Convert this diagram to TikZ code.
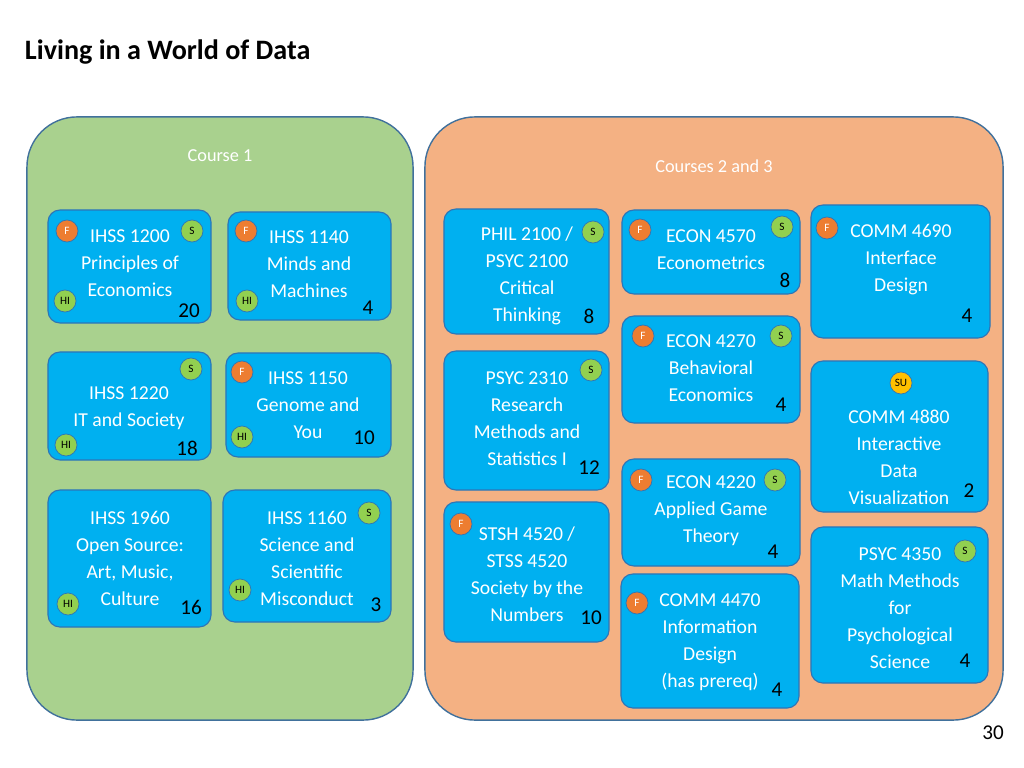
\documentclass[tikz,border=0pt]{standalone}
\usepackage{fontspec}
\setmainfont{Carlito}
\usetikzlibrary{positioning}
\definecolor{boxblue}{RGB}{0,176,240}
\definecolor{edgeblue}{RGB}{46,117,182}
\definecolor{darkedge}{RGB}{65,113,156}
\definecolor{greenbg}{RGB}{169,209,142}
\definecolor{orangebg}{RGB}{244,177,131}
\definecolor{fcol}{RGB}{237,125,49}
\definecolor{scol}{RGB}{146,208,80}
\definecolor{sucol}{RGB}{255,192,0}
\tikzset{
  area/.style={draw=darkedge, line width=1pt, rounded corners=1.25cm, inner sep=0pt},
  course/.style={draw=edgeblue, line width=0.8pt, fill=boxblue, rounded corners=0.3cm, inner sep=0pt},
  ctext/.style={align=center, text=white, font=\fontsize{14}{19.2}\selectfont},
  badge/.style={circle, draw=edgeblue, line width=0.5pt, minimum size=0.55cm, inner sep=0pt, font=\fontsize{8}{8}\selectfont},
  fb/.style={badge, fill=fcol, text=white},
  sb/.style={badge, fill=scol},
  hb/.style={badge, fill=scol},
  sub/.style={badge, fill=sucol},
  num/.style={font=\fontsize{15}{15}\selectfont},
}
\begin{document}
\begin{tikzpicture}[x=0.025cm, y=-0.025cm]
  \useasboundingbox[fill=white] (0,0) rectangle (1024,768);

  \node[anchor=west, font=\bfseries\fontsize{20}{20}\selectfont] (title) at (20,52) {Living in a World of Data};
  \node[num] (page) at (993,733) {30};

  % the two groups
  \node[area, fill=greenbg, minimum width=9.65cm, minimum height=15.075cm] (grp1) at (220,418.5) {};
  \node[area, fill=orangebg, minimum width=14.45cm, minimum height=15.075cm] (grp2) at (714,418.5) {};
  \node[text=white, font=\fontsize{13}{13}\selectfont] (grp1lbl) at (220,156) {Course 1};
  \node[text=white, font=\fontsize{13}{13}\selectfont] (grp2lbl) at (714,166) {Courses 2 and 3};

  % course boxes
  \node[course, minimum width=4.075cm, minimum height=2.825cm] (ihss1200) at (129.5,266.5) {};
  \node[course, minimum width=4.075cm, minimum height=2.7cm] (ihss1140) at (309.5,266) {};
  \node[course, minimum width=4.075cm, minimum height=2.7cm] (ihss1220) at (129.5,406) {};
  \node[course, minimum width=4.125cm, minimum height=2.6cm] (ihss1150) at (308.5,405) {};
  \node[course, minimum width=4.075cm, minimum height=3.425cm] (ihss1960) at (129.5,558.5) {};
  \node[course, minimum width=4.2cm, minimum height=3.3cm] (ihss1160) at (307,556) {};
  \node[course, minimum width=4.125cm, minimum height=3.125cm] (phil2100) at (526.5,271.5) {};
  \node[course, minimum width=4.45cm, minimum height=2.1cm] (econ4570) at (711,252) {};
  \node[course, minimum width=4.475cm, minimum height=3.325cm] (comm4690) at (900.5,271.5) {};
  \node[course, minimum width=4.45cm, minimum height=2.675cm] (econ4270) at (711,369.5) {};
  \node[course, minimum width=4.125cm, minimum height=3.475cm] (psyc2310) at (526.5,420.5) {};
  \node[course, minimum width=4.425cm, minimum height=3.775cm] (comm4880) at (899.5,436.5) {};
  \node[course, minimum width=4.45cm, minimum height=2.675cm] (econ4220) at (711,512.5) {};
  \node[course, minimum width=4.125cm, minimum height=3.5cm] (stsh4520) at (526.5,572) {};
  \node[course, minimum width=4.425cm, minimum height=3.9cm] (psyc4350) at (899.5,605) {};
  \node[course, minimum width=4.45cm, minimum height=3.35cm] (comm4470) at (710,641) {};

  % course titles
  \node[ctext] (t1200) at (130,263) {IHSS 1200\\Principles of\\Economics};
  \node[ctext] (t1140) at (309,264) {IHSS 1140\\Minds and\\Machines};
  \node[ctext] (t1220) at (129,408) {IHSS 1220\\IT and Society};
  \node[ctext] (t1150) at (308,405) {IHSS 1150\\Genome and\\You};
  \node[ctext] (t1960) at (130,558) {IHSS 1960\\Open Source:\\Art, Music,\\Culture};
  \node[ctext] (t1160) at (307,558) {IHSS 1160\\Science and\\Scientific\\Misconduct};
  \node[ctext] (t2100) at (527,276) {PHIL 2100 /\\PSYC 2100\\Critical\\Thinking};
  \node[ctext] (t4570) at (711,250) {ECON 4570\\Econometrics};
  \node[ctext] (t4690) at (901,260) {COMM 4690\\Interface\\Design};
  \node[ctext] (t4270) at (711,368) {ECON 4270\\Behavioral\\Economics};
  \node[ctext] (t2310) at (527,419) {PSYC 2310\\Research\\Methods and\\Statistics I};
  \node[ctext] (t4880) at (899,457) {COMM 4880\\Interactive\\Data\\Visualization};
  \node[ctext] (t4220) at (711,511) {ECON 4220\\Applied Game\\Theory};
  \node[ctext] (t4520) at (527,574) {STSH 4520 /\\STSS 4520\\Society by the\\Numbers};
  \node[ctext] (t4350) at (900,608) {PSYC 4350\\Math Methods\\for\\Psychological\\Science};
  \node[ctext] (t4470) at (710,642) {COMM 4470\\Information\\Design\\(has prereq)};

  % badges
  \node[fb] (f1200) at (67,231) {F};
  \node[sb] (s1200) at (192,231) {S};
  \node[hb] (h1200) at (65,301) {HI};
  \node[fb] (f1140) at (246,231) {F};
  \node[hb] (h1140) at (247,301) {HI};
  \node[sb] (s1220) at (191,369) {S};
  \node[hb] (h1220) at (66,445) {HI};
  \node[fb] (f1150) at (242,372) {F};
  \node[hb] (h1150) at (242,437) {HI};
  \node[hb] (h1960) at (68,604) {HI};
  \node[sb] (s1160) at (369,513) {S};
  \node[hb] (h1160) at (240,590) {HI};
  \node[sb] (s2100) at (593,232) {S};
  \node[fb] (f4570) at (640,230) {F};
  \node[sb] (s4570) at (782,227) {S};
  \node[fb] (f4690) at (827,228) {F};
  \node[fb] (f4270) at (643,336) {F};
  \node[sb] (s4270) at (781,336) {S};
  \node[sb] (s2310) at (591,370) {S};
  \node[sub] (su4880) at (901,383) {SU};
  \node[fb] (f4220) at (641,480) {F};
  \node[sb] (s4220) at (775,480) {S};
  \node[fb] (f4520) at (461,524) {F};
  \node[sb] (s4350) at (965,551) {S};
  \node[fb] (f4470) at (637,603) {F};

  % enrolment numbers
  \node[num] (n1200) at (189,311) {20};
  \node[num] (n1140) at (368,308) {4};
  \node[num] (n1220) at (187,448) {18};
  \node[num] (n1150) at (364,438) {10};
  \node[num] (n1960) at (191,607) {16};
  \node[num] (n1160) at (376,605) {3};
  \node[num] (n2100) at (589,316) {8};
  \node[num] (n4570) at (785,280) {8};
  \node[num] (n4690) at (967,316) {4};
  \node[num] (n4270) at (781,405) {4};
  \node[num] (n2310) at (589,468) {12};
  \node[num] (n4880) at (969,491) {2};
  \node[num] (n4220) at (773,552) {4};
  \node[num] (n4520) at (591,618) {10};
  \node[num] (n4350) at (965,661) {4};
  \node[num] (n4470) at (777,690) {4};
\end{tikzpicture}
\end{document}
